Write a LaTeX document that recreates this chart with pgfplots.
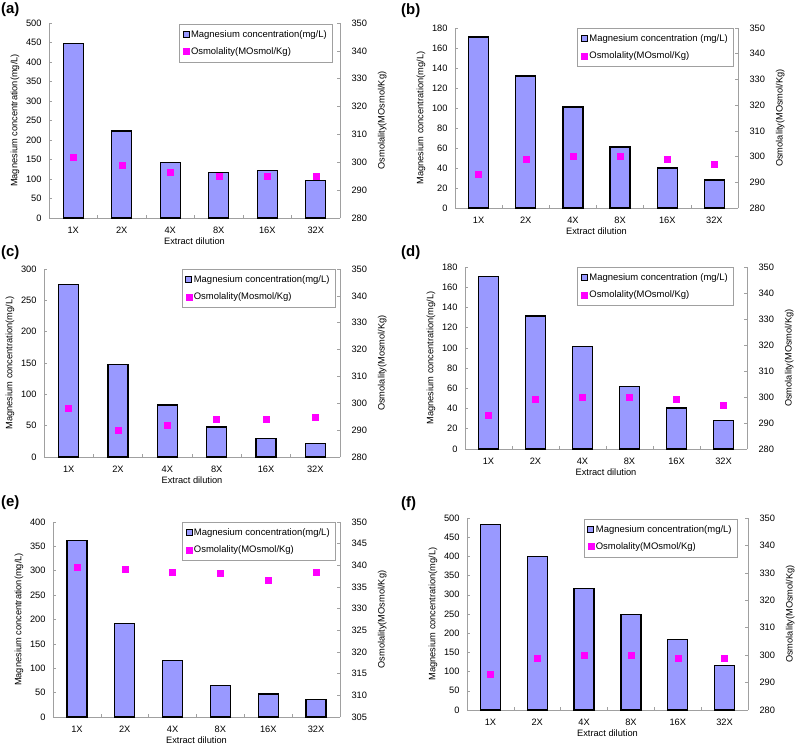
\documentclass[border=0pt]{standalone}
\usepackage{fontspec}
\setmainfont{Liberation Sans}
\usepackage{pgfplots}
\pgfplotsset{compat=1.18}
\definecolor{barblue}{RGB}{153,153,255}
\definecolor{mag}{RGB}{255,0,255}
\definecolor{axgray}{HTML}{A0A0A0}
\newcommand{\tfont}{\fontsize{9.3}{11}\selectfont}
\newcommand{\lfont}{\fontsize{9.5}{11}\selectfont}
\pgfplotsset{
  base/.style={scale only axis, xmin=-0.5, xmax=5.5,
    axis line style={axgray, line width=0.6bp},
    tick style={axgray, line width=0.6bp},
    tick align=inside, major tick length=3bp, minor tick length=3bp,
    /pgf/number format/assume math mode=true,
    tick label style={font=\tfont},
    label style={font=\tfont},
    clip=false},
  leftax/.style={base, axis x line*=bottom, axis y line*=left, ymin=0,
    xtick={0,1,2,3,4,5}, xticklabels={1X,2X,4X,8X,16X,32X},
    major x tick style={draw=none},
    minor xtick={0.5,1.5,2.5,3.5,4.5},
    xticklabel style={yshift=-6bp},
    yticklabel style={xshift=-4bp},
    xlabel={Extract dilution},
    ylabel={Magnesium concentration(mg/L)},
    xlabel style={yshift=3bp},
    ylabel style={yshift=0bp}},
  rightax/.style={base, axis x line=none, axis y line*=right, xtick=\empty,
    yticklabel style={xshift=8bp},
    ylabel style={yshift=-4bp},
    legend cell align=left,
    legend style={draw=axgray, line width=0.6bp, font=\lfont, anchor=north east,
      inner xsep=4bp, inner ysep=4bp, row sep=5bp,
      /tikz/every odd column/.append style={column sep=0bp}}},
  bars/.style={ybar, bar width=20bp, fill=barblue, draw=black, line width=1.2bp},
  osm/.style={only marks, mark=square*, mark size=3bp, color=mag},
  magleg/.style={only marks, mark=square*, mark size=3bp, mark options={fill=barblue, draw=black, line width=0.9bp}},
}
\begin{document}
\begin{tikzpicture}
\useasboundingbox (0bp,0bp) rectangle (800bp,-747bp);
% ---------------- (a)
\node[anchor=north west, font=\fontsize{15}{17}\selectfont\bfseries, inner sep=0pt] at (1bp,-2bp) {(a)};
\begin{axis}[leftax, at={(49bp,-218bp)}, anchor=south west, width=291bp, height=195bp,
  ymax=500, ytick={0,50,...,500}]
\addplot[bars] coordinates {(0,448) (1,223) (2,143) (3,116) (4,121) (5,96)};
\end{axis}
\begin{axis}[rightax, at={(49bp,-218bp)}, anchor=south west, width=291bp, height=195bp,
  ymin=280, ymax=350, ytick={280,290,...,350}, ylabel={Osmolality(MOsmol/Kg)},
  legend style={at={(0.976,0.995)}}]
\addlegendimage{magleg}\addlegendentry{Magnesium concentration(mg/L)}
\addplot[osm] coordinates {(0,302) (1,299) (2,296.5) (3,295) (4,295) (5,295)};
\addlegendentry{Osmolality(MOsmol/Kg)}
\end{axis}
% ---------------- (b)
\node[anchor=north west, font=\fontsize{15}{17}\selectfont\bfseries, inner sep=0pt] at (401bp,-3bp) {(b)};
\begin{axis}[leftax, at={(455bp,-208bp)}, anchor=south west, width=283bp, height=180bp,
  ymax=180, ytick={0,20,...,180}]
\addplot[bars] coordinates {(0,171) (1,132) (2,101) (3,61) (4,40) (5,28)};
\end{axis}
\begin{axis}[rightax, at={(455bp,-208bp)}, anchor=south west, width=283bp, height=180bp,
  ymin=280, ymax=350, ytick={280,290,...,350}, ylabel={Osmolality(MOsmol/Kg)},
  legend style={at={(0.986,1.0)}}]
\addlegendimage{magleg}\addlegendentry{Magnesium concentration (mg/L)}
\addplot[osm] coordinates {(0,293) (1,299) (2,300) (3,300) (4,299) (5,297)};
\addlegendentry{Osmolality(MOsmol/Kg)}
\end{axis}
% ---------------- (c)
\node[anchor=north west, font=\fontsize{15}{17}\selectfont\bfseries, inner sep=0pt] at (1bp,-245bp) {(c)};
\begin{axis}[leftax, at={(44bp,-457bp)}, anchor=south west, width=296bp, height=188bp,
  ymax=300, ytick={0,50,...,300}]
\addplot[bars] coordinates {(0,275) (1,147) (2,83) (3,48) (4,30) (5,22)};
\end{axis}
\begin{axis}[rightax, at={(44bp,-457bp)}, anchor=south west, width=296bp, height=188bp,
  ymin=280, ymax=350, ytick={280,290,...,350}, ylabel={Osmolality(Mosmol/Kg)},
  legend style={at={(0.986,1.0)}}]
\addlegendimage{magleg}\addlegendentry{Magnesium concentration(mg/L)}
\addplot[osm] coordinates {(0,298) (1,290) (2,292) (3,294) (4,294) (5,295)};
\addlegendentry{Osmolality(Mosmol/Kg)}
\end{axis}
% ---------------- (d)
\node[anchor=north west, font=\fontsize{15}{17}\selectfont\bfseries, inner sep=0pt] at (401bp,-245bp) {(d)};
\begin{axis}[leftax, at={(465bp,-449bp)}, anchor=south west, width=282bp, height=182bp,
  ymax=180, ytick={0,20,...,180}]
\addplot[bars] coordinates {(0,171) (1,131.5) (2,101.5) (3,62) (4,40.5) (5,28.5)};
\end{axis}
\begin{axis}[rightax, at={(465bp,-449bp)}, anchor=south west, width=282bp, height=182bp,
  ymin=280, ymax=350, ytick={280,290,...,350}, ylabel={Osmolality(MOsmol/Kg)},
  legend style={at={(0.954,1.0)}}]
\addlegendimage{magleg}\addlegendentry{Magnesium concentration (mg/L)}
\addplot[osm] coordinates {(0,293) (1,299) (2,300) (3,300) (4,299) (5,297)};
\addlegendentry{Osmolality(MOsmol/Kg)}
\end{axis}
% ---------------- (e)
\node[anchor=north west, font=\fontsize{15}{17}\selectfont\bfseries, inner sep=0pt] at (1bp,-495bp) {(e)};
\begin{axis}[leftax, at={(53bp,-717bp)}, anchor=south west, width=287bp, height=195bp,
  ymax=400, ytick={0,50,...,400}]
\addplot[bars] coordinates {(0,362) (1,191) (2,116) (3,65) (4,47) (5,36)};
\end{axis}
\begin{axis}[rightax, at={(53bp,-717bp)}, anchor=south west, width=287bp, height=195bp,
  ymin=305, ymax=350, ytick={305,310,...,350}, ylabel={Osmolality(MOsmol/Kg)},
  legend style={at={(0.986,1.0)}}]
\addlegendimage{magleg}\addlegendentry{Magnesium concentration(mg/L)}
\addplot[osm] coordinates {(0,339.6) (1,339.1) (2,338.5) (3,338.1) (4,336.5) (5,338.5)};
\addlegendentry{Osmolality(MOsmol/Kg)}
\end{axis}
% ---------------- (f)
\node[anchor=north west, font=\fontsize{15}{17}\selectfont\bfseries, inner sep=0pt] at (401bp,-496bp) {(f)};
\begin{axis}[leftax, at={(467bp,-710bp)}, anchor=south west, width=281bp, height=192bp,
  ymax=500, ytick={0,50,...,500}]
\addplot[bars] coordinates {(0,483) (1,400) (2,317) (3,248) (4,183) (5,116)};
\end{axis}
\begin{axis}[rightax, at={(467bp,-710bp)}, anchor=south west, width=281bp, height=192bp,
  ymin=280, ymax=350, ytick={280,290,...,350}, ylabel={Osmolality(MOsmol/Kg)},
  legend style={at={(0.964,0.995)}}]
\addlegendimage{magleg}\addlegendentry{Magnesium concentration(mg/L)}
\addplot[osm] coordinates {(0,293) (1,299) (2,300) (3,300) (4,299) (5,299)};
\addlegendentry{Osmolality(MOsmol/Kg)}
\end{axis}
\end{tikzpicture}
\end{document}
